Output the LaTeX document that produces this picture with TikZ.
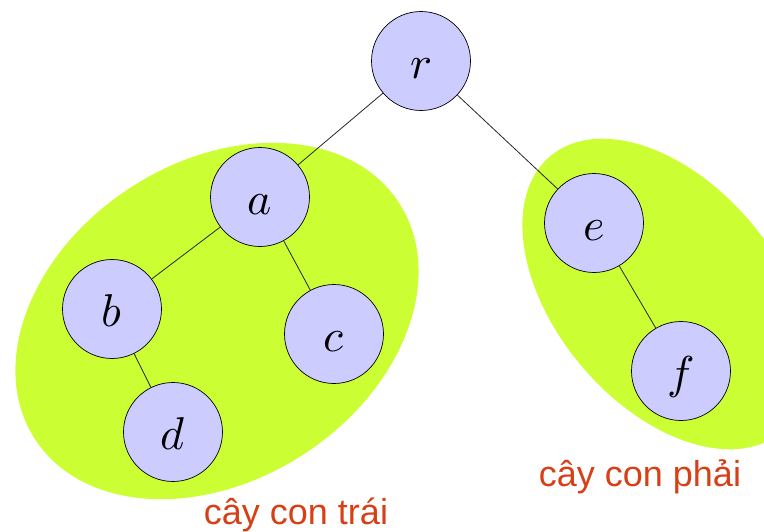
\documentclass[tikz,border=0pt]{standalone}
\usepackage{fontspec}
\usepackage{unicode-math}
\setmathfont{Latin Modern Math}
\newfontfamily\labelfont{Liberation Sans}
\definecolor{blobgreen}{RGB}{204,255,51}
\definecolor{nodefill}{RGB}{204,204,255}
\definecolor{labelred}{RGB}{214,64,22}
\begin{document}
\begin{tikzpicture}[x=1pt,y=1pt,
  treenode/.style={circle,draw=black,line width=0.7pt,fill=nodefill,minimum size=99pt,inner sep=0pt,text height=34pt,text depth=0pt,font=\fontsize{46}{50}\selectfont},
  edge/.style={draw=black!85,line width=0.8pt},
  blobfill/.style={fill=blobgreen},
  sublabel/.style={font=\labelfont\fontsize{36}{40}\selectfont,text=labelred,anchor=base,inner sep=0pt}]
\clip (0,0) rectangle (764,-531);
\fill[blobfill,rotate around={33:(217,-321)}] (217,-321) ellipse [x radius=217,y radius=159];
\fill[blobfill,rotate around={-50:(666,-294)}] (666,-294) ellipse [x radius=180,y radius=111];
\node[treenode] (r) at (421,-61) {$r$};
\node[treenode] (a) at (260,-197) {$a$};
\node[treenode] (b) at (112,-309) {$b$};
\node[treenode] (c) at (334,-334) {$c$};
\node[treenode] (d) at (173,-432) {$d$};
\node[treenode] (e) at (594,-223) {$e$};
\node[treenode] (f) at (681,-371) {$f$};
\draw[edge] (r) -- (a);
\draw[edge] (r) -- (e);
\draw[edge] (a) -- (b);
\draw[edge] (a) -- (c);
\draw[edge] (b) -- (d);
\draw[edge] (e) -- (f);
\node[sublabel] (lt) at (296,-524) {cây con trái};
\node[sublabel] (lp) at (640,-486) {cây con phải};
\end{tikzpicture}
\end{document}
